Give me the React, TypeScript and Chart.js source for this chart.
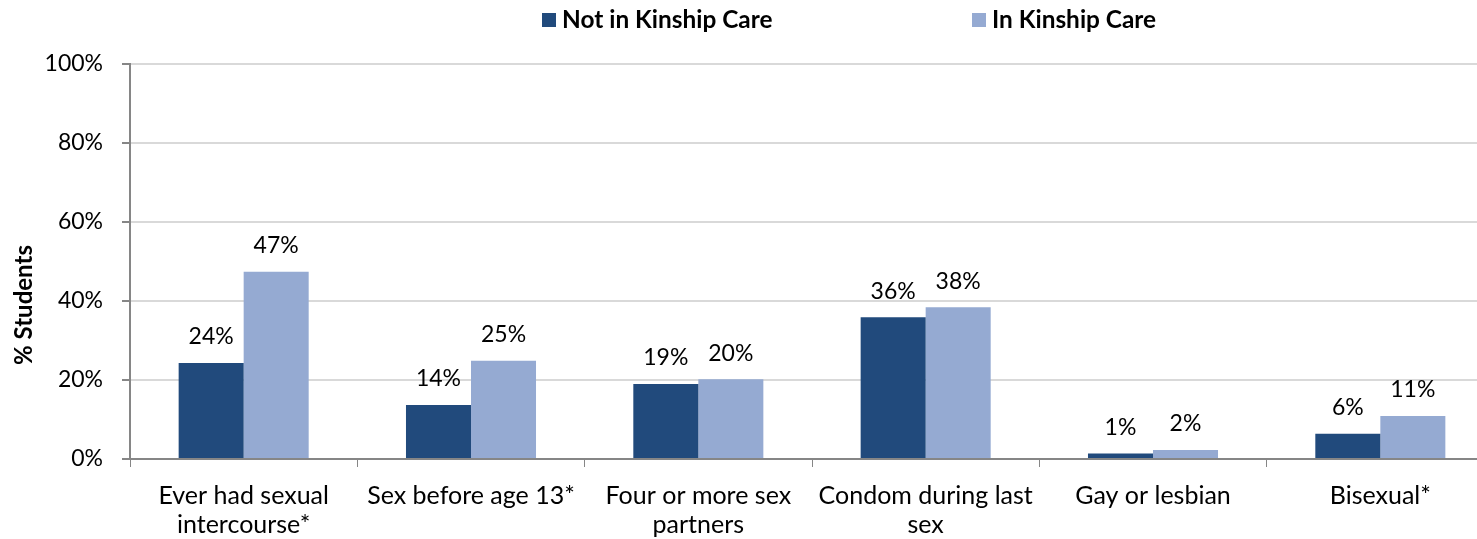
import React, { useEffect, useRef } from "react";
import { Chart, registerables } from "chart.js";

Chart.register(...registerables);

const categories: (string | string[])[] = [
  ["Ever had sexual", "intercourse*"],
  "Sex before age 13*",
  ["Four or more sex", "partners"],
  ["Condom during last", "sex"],
  "Gay or lesbian",
  "Bisexual*",
];
const notInKinship = [24.3, 13.7, 19.0, 35.9, 1.4, 6.4];
const inKinship = [47.4, 24.9, 20.2, 38.4, 2.3, 10.9];
const notInKinshipLabels = ["24%", "14%", "19%", "36%", "1%", "6%"];
const inKinshipLabels = ["47%", "25%", "20%", "38%", "2%", "11%"];
const seriesNames = ["Not in Kinship Care", "In Kinship Care"];
const yTicks = [0, 20, 40, 60, 80, 100];

const FONT = "Lato, 'Liberation Sans', sans-serif";
const DARK = "#214A7C";
const LIGHT = "#95AAD2";

const overlayPlugin = {
  id: "overlay",
  afterDatasetsDraw(chart: any) {
    const ctx = chart.ctx;
    ctx.save();
    // data labels
    const labelSets = [notInKinshipLabels, inKinshipLabels];
    ctx.font = `23px ${FONT}`;
    ctx.fillStyle = "#000";
    ctx.textAlign = "center";
    ctx.textBaseline = "middle";
    chart.data.datasets.forEach((_ds: any, di: number) => {
      const meta = chart.getDatasetMeta(di);
      meta.data.forEach((bar: any, i: number) => {
        ctx.fillText(labelSets[di][i], bar.x, bar.y - 26);
      });
    });
    // legend
    const legendX = [542, 972];
    ctx.font = `bold 24.4px ${FONT}`;
    ctx.textAlign = "left";
    chart.data.datasets.forEach((ds: any, di: number) => {
      ctx.fillStyle = ds.backgroundColor;
      ctx.fillRect(legendX[di], 13, 14, 14);
      ctx.fillStyle = "#000";
      ctx.fillText(ds.label, legendX[di] + 20, 20);
    });
    // y title
    ctx.translate(24, 305);
    ctx.rotate(-Math.PI / 2);
    ctx.textAlign = "center";
    ctx.font = `bold 24px ${FONT}`;
    ctx.fillText("% Students", 0, 0);
    ctx.restore();
  },
};

export default function App() {
  const ref = useRef<HTMLCanvasElement>(null);
  useEffect(() => {
    if (!ref.current) return;
    const chart = new Chart(ref.current, {
      type: "bar",
      data: {
        labels: categories,
        datasets: [
          {
            label: seriesNames[0],
            data: notInKinship,
            backgroundColor: DARK,
            barPercentage: 1,
            categoryPercentage: 0.572,
          },
          {
            label: seriesNames[1],
            data: inKinship,
            backgroundColor: LIGHT,
            barPercentage: 1,
            categoryPercentage: 0.572,
          },
        ],
      },
      options: {
        animation: false,
        responsive: false,
        maintainAspectRatio: false,
        layout: { padding: { left: 0, right: 6, top: 64, bottom: 0 } },
        plugins: {
          legend: { display: false },
          tooltip: { enabled: false },
        },
        scales: {
          x: {
            offset: true,
            grid: {
              offset: true,
              drawOnChartArea: false,
              drawTicks: true,
              tickLength: 8,
              tickColor: "#868686",
              color: "#868686",
            },
            border: { color: "#868686", width: 2 },
            ticks: {
              color: "#000",
              padding: 14,
              maxRotation: 0,
              autoSkip: false,
              font: { family: FONT, size: 25, lineHeight: 1.16 },
            },
            afterFit(scale: any) {
              scale.height = 80;
            },
          },
          y: {
            min: 0,
            max: 100,
            afterBuildTicks(scale: any) {
              scale.ticks = yTicks.map((v) => ({ value: v }));
            },
            grid: {
              color: "#D9D9D9",
              lineWidth: 2,
              tickLength: 8,
              tickColor: "#868686",
            },
            border: { color: "#868686", width: 2 },
            ticks: {
              color: "#000",
              padding: 19,
              font: { family: FONT, size: 23 },
              callback: (v: any) => `${v}%`,
            },
            afterFit(scale: any) {
              scale.width = 130;
            },
          },
        },
      },
      plugins: [overlayPlugin],
    });
    return () => chart.destroy();
  }, []);
  return (
    <div
      style={{
        position: "fixed",
        left: 0,
        top: 0,
        width: 1477,
        height: 539,
        overflow: "hidden",
        background: "#fff",
      }}
    >
      <canvas ref={ref} width={1500} height={539} style={{ display: "block" }} />
    </div>
  );
}
